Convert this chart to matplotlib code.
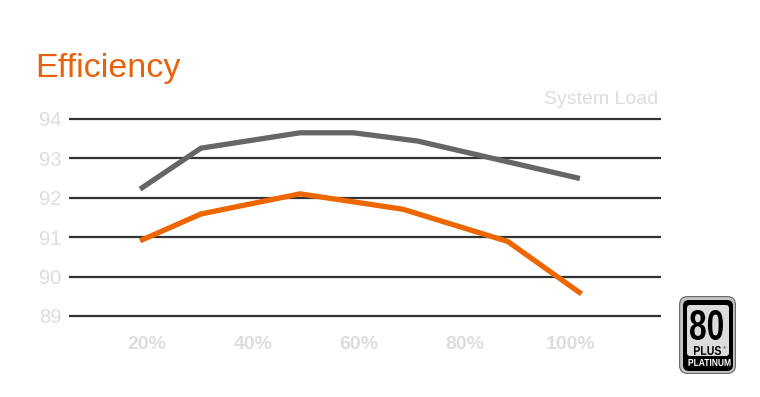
"""Efficiency vs system load chart with an 80 PLUS Platinum badge."""
import matplotlib
matplotlib.use("Agg")
import matplotlib.pyplot as plt
from matplotlib.font_manager import FontProperties
from matplotlib.patches import FancyBboxPatch, PathPatch
from matplotlib.textpath import TextPath
from matplotlib.transforms import Affine2D

# data (x in % load, y in % efficiency)
GRAY_LOAD = [18.7, 30.2, 48.9, 59.0, 71.1, 101.7]
GRAY_EFF = [92.22, 93.26, 93.65, 93.65, 93.44, 92.49]
ORANGE_LOAD = [18.7, 30.2, 48.9, 68.3, 88.1, 102.0]
ORANGE_EFF = [90.91, 91.59, 92.10, 91.71, 90.89, 89.56]
X_TICKS = [20, 40, 60, 80, 100]
X_LABELS = ["20%", "40%", "60%", "80%", "100%"]
Y_TICKS = [89, 90, 91, 92, 93, 94]

ORANGE = "#EE6600"
TITLE_ORANGE = "#E8610C"
GRAY = "#666666"
LIGHT = "#DDDDDD"
GRID = "#333333"
FONT = "Liberation Sans"

W, H = 760, 397


def fit_text(ax, s, x0, y0, x1, y1, color):
    """Squeeze a bold text path into the box (x0, y0)-(x1, y1), y pointing down."""
    tp = TextPath((0, 0), s, size=10, prop=FontProperties(family=FONT, weight="bold"))
    bb = tp.get_extents()
    tr = (Affine2D().translate(-bb.x0, -bb.y0)
          .scale((x1 - x0) / bb.width, -(y1 - y0) / bb.height)
          .translate(x0, y1))
    ax.add_patch(PathPatch(tr.transform_path(tp), fc=color, ec="none"))


def main():
    plt.rcParams["font.family"] = [FONT, "DejaVu Sans"]
    fig = plt.figure(figsize=(W / 100, H / 100), dpi=100)

    # axes placed so 89..94 sits on pixel rows 316..119
    px_per = 39.4
    top_px = 119 - 0.2 * px_per
    bot_px = 316 + 0.2 * px_per
    ax = fig.add_axes([69 / W, (H - bot_px) / H, (661 - 69) / W, (bot_px - top_px) / H])
    ax.set_ylim(88.8, 94.2)
    ax.set_xlim(5.3, 117.0)

    for v in Y_TICKS:
        ax.axhline(v, color=GRID, lw=1.6, zorder=1)
    ax.plot(GRAY_LOAD, GRAY_EFF, color=GRAY, lw=3.8, solid_capstyle="butt",
            solid_joinstyle="miter", zorder=3)
    ax.plot(ORANGE_LOAD, ORANGE_EFF, color=ORANGE, lw=3.8, solid_capstyle="butt",
            solid_joinstyle="miter", zorder=3)

    ax.set_yticks(Y_TICKS, [str(v) for v in Y_TICKS])
    ax.set_xticks(X_TICKS, X_LABELS)
    ax.tick_params(axis="y", length=0, pad=5.5, labelsize=14.5, labelcolor=LIGHT)
    ax.tick_params(axis="x", length=0, pad=8.5, labelsize=14, labelcolor=LIGHT)
    for lab in ax.get_xticklabels():
        lab.set_fontweight("bold")
    for sp in ax.spines.values():
        sp.set_visible(False)
    ax.patch.set_visible(False)

    fig.text(35 / W, (H - 77) / H, "Efficiency", color=TITLE_ORANGE, fontsize=24.6,
             ha="left", va="baseline")
    fig.text(658 / W, (H - 104) / H, "System Load", color=LIGHT, fontsize=14,
             ha="right", va="baseline")

    # 80 PLUS Platinum badge, drawn in pixel units
    bx = fig.add_axes([679 / W, (H - 374) / H, 57 / W, 78 / H])
    bx.set_xlim(0, 57)
    bx.set_ylim(78, 0)
    bx.axis("off")
    bx.add_patch(FancyBboxPatch((0.6, 0.6), 55.8, 76.8,
                                boxstyle="round,pad=0,rounding_size=8",
                                fc="#C4C4C4", ec="#666666", lw=0.8))
    bx.add_patch(FancyBboxPatch((4, 4), 50, 71, boxstyle="round,pad=0,rounding_size=6",
                                fc="black", ec="none"))
    bx.add_patch(FancyBboxPatch((8, 9), 42, 51, boxstyle="round,pad=0,rounding_size=3",
                                fc="#DCDCDC", ec="none"))
    fit_text(bx, "80", 11, 14, 44, 44, "black")
    fit_text(bx, "PLUS", 15, 50, 42, 59, "black")
    bx.text(43.5, 50.5, "®", fontsize=3, color="black", ha="left", va="top")
    fit_text(bx, "PLATINUM", 9.5, 63, 51.5, 70, "white")

    fig.savefig("out.png", dpi=100)
    plt.close(fig)


if __name__ == "__main__":
    main()
